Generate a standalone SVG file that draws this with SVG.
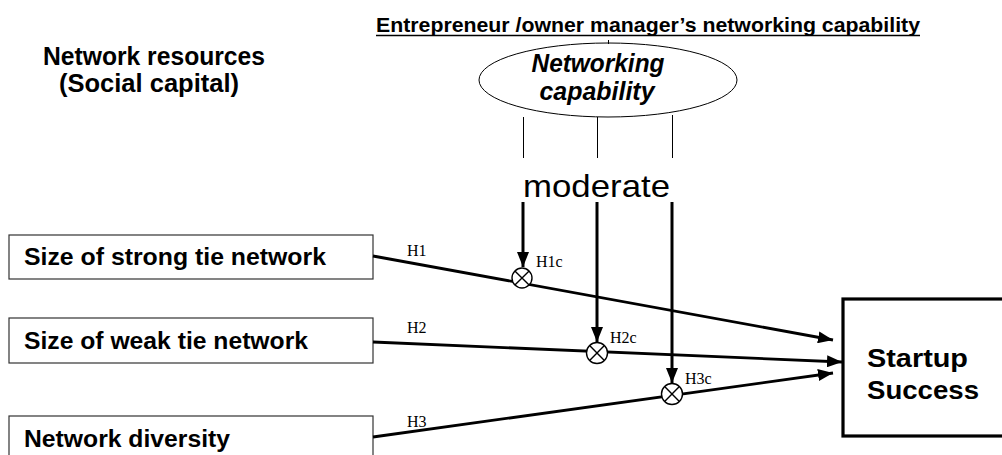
<svg xmlns="http://www.w3.org/2000/svg" width="1002" height="455" viewBox="0 0 1002 455">
<style>
.sans{font-family:"Liberation Sans",Arial,sans-serif;font-weight:bold;fill:#000}
.serif{font-family:"Liberation Serif","Times New Roman",serif;font-size:16px;fill:#000}
.box{fill:#fff;stroke:#333;stroke-width:1.2}
.thin{stroke:#000;stroke-width:1;fill:none}
.path{stroke:#000;stroke-width:2.8;fill:none}
.mod{stroke:#000;stroke-width:3;fill:none}
.xc{stroke:#000;stroke-width:1.4;fill:#fff}
</style>
<defs>
<marker id="ah" markerUnits="userSpaceOnUse" markerWidth="16" markerHeight="12" refX="15" refY="6" orient="auto">
<path d="M0,0 L15,6 L0,12 z" fill="#000"/>
</marker>
</defs>
<rect width="1002" height="455" fill="#fff"/>

<g id="title">
<text class="sans" x="376" y="32" font-size="20.5" textLength="544" lengthAdjust="spacingAndGlyphs">Entrepreneur /owner manager’s networking capability</text>
<line x1="376" y1="35.5" x2="920" y2="35.5" stroke="#000" stroke-width="1.5"/>
</g>

<g id="network-resources-label">
<text class="sans" x="154" y="65" font-size="25" text-anchor="middle" textLength="222" lengthAdjust="spacingAndGlyphs">Network resources</text>
<text class="sans" x="149" y="92" font-size="25" text-anchor="middle" textLength="180" lengthAdjust="spacingAndGlyphs">(Social capital)</text>
</g>

<g id="networking-capability">
<line x1="608.5" y1="40" x2="608.5" y2="44" class="thin"/>
<ellipse cx="608" cy="80" rx="129" ry="37" class="thin"/>
<text class="sans" x="598" y="72" font-size="25" font-style="italic" text-anchor="middle" textLength="133" lengthAdjust="spacingAndGlyphs">Networking</text>
<text class="sans" x="597" y="100" font-size="25" font-style="italic" text-anchor="middle" textLength="115" lengthAdjust="spacingAndGlyphs">capability</text>
</g>

<g id="moderate">
<text x="523" y="197" font-family="'Liberation Sans',Arial,sans-serif" font-size="32" textLength="147" lengthAdjust="spacingAndGlyphs">moderate</text>
</g>

<g id="strong-tie">
<rect x="9" y="235" width="364" height="44" class="box"/>
<text class="sans" x="24" y="265" font-size="23" textLength="302" lengthAdjust="spacingAndGlyphs">Size of strong tie network</text>
</g>
<g id="weak-tie">
<rect x="9" y="318" width="364" height="45" class="box"/>
<text class="sans" x="24" y="349" font-size="23" textLength="284" lengthAdjust="spacingAndGlyphs">Size of weak tie network</text>
</g>
<g id="diversity">
<rect x="9" y="416" width="364" height="50" class="box"/>
<text class="sans" x="24" y="447" font-size="23" textLength="206" lengthAdjust="spacingAndGlyphs">Network diversity</text>
</g>

<g id="startup-success">
<rect x="843" y="299" width="170" height="137" fill="#fff" stroke="#000" stroke-width="3.2"/>
<text class="sans" x="867" y="367" font-size="26" textLength="101" lengthAdjust="spacingAndGlyphs">Startup</text>
<text class="sans" x="867" y="399" font-size="26" textLength="112" lengthAdjust="spacingAndGlyphs">Success</text>
</g>

<g id="connectors">
<line x1="523.5" y1="117" x2="523.5" y2="158" class="thin"/>
<line x1="597.5" y1="117" x2="597.5" y2="158" class="thin"/>
<line x1="672.5" y1="115" x2="672.5" y2="158" class="thin"/>

<line x1="373" y1="256" x2="833" y2="340" class="path" marker-end="url(#ah)"/>
<line x1="373" y1="342" x2="842" y2="362" class="path" marker-end="url(#ah)"/>
<line x1="373" y1="437" x2="833" y2="373" class="path" marker-end="url(#ah)"/>

<line x1="523" y1="202" x2="523" y2="267" class="mod" marker-end="url(#ah)"/>
<line x1="597" y1="202" x2="597" y2="342" class="mod" marker-end="url(#ah)"/>
<line x1="672" y1="202" x2="672" y2="383" class="mod" marker-end="url(#ah)"/>
</g>

<g id="interaction-nodes">
<g id="x1">
<circle cx="522" cy="278" r="10" class="xc"/>
<path d="M514.9,270.9 L529.1,285.1 M529.1,270.9 L514.9,285.1" class="xc"/>
</g>
<g id="x2">
<circle cx="597" cy="353" r="10.5" class="xc"/>
<path d="M589.6,345.6 L604.4,360.4 M604.4,345.6 L589.6,360.4" class="xc"/>
</g>
<g id="x3">
<circle cx="672" cy="394" r="10.5" class="xc"/>
<path d="M664.6,386.6 L679.4,401.4 M679.4,386.6 L664.6,401.4" class="xc"/>
</g>
</g>

<g id="labels">
<text class="serif" x="407" y="256">H1</text>
<text class="serif" x="407" y="333">H2</text>
<text class="serif" x="407" y="427">H3</text>
<text class="serif" x="536" y="267">H1c</text>
<text class="serif" x="610" y="343">H2c</text>
<text class="serif" x="685" y="384">H3c</text>
</g>
</svg>
